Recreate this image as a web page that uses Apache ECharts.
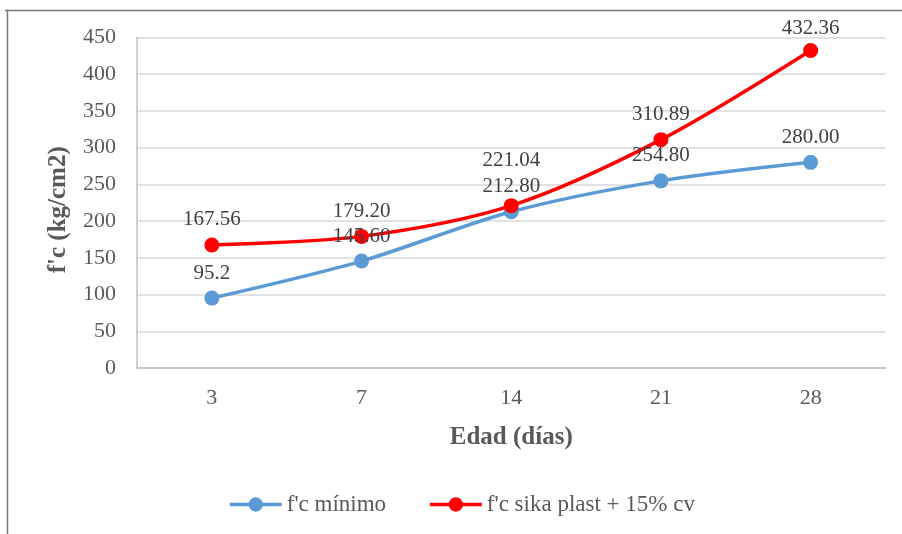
<!DOCTYPE html>
<html>
<head>
<meta charset="utf-8">
<script src="https://cdn.jsdelivr.net/npm/echarts@6/dist/echarts.min.js"></script>
<style>
  html, body { margin: 0; padding: 0; background: #ffffff; }
  #chart { width: 902px; height: 534px; }
</style>
</head>
<body>
<div id="chart"></div>
<script>
// Compressive strength by age
const ages = ['3', '7', '14', '21', '28'];
const minimoText = ['95.2', '145.60', '212.80', '254.80', '280.00'];
const sikaText = ['167.56', '179.20', '221.04', '310.89', '432.36'];
const yTicks = { min: 0, max: 450, interval: 50 };
const seriesNames = ["f'c mínimo", "f'c sika plast + 15% cv"];

const FONT = '"Liberation Serif", "Times New Roman", serif';
const labelStyle = { fontFamily: FONT, fontSize: 21, color: '#404040' };

function points(texts, distances) {
  return texts.map((t, i) => {
    const item = { value: Number(t) };
    if (distances && distances[i] != null) item.label = { distance: distances[i] };
    return item;
  });
}

const chart = echarts.init(document.getElementById('chart'), null, { renderer: 'canvas' });

chart.setOption({
  backgroundColor: '#ffffff',
  animation: false,
  graphic: [
    { type: 'line', shape: { x1: 5, y1: 10.5, x2: 902, y2: 10.5 }, style: { stroke: '#767676', lineWidth: 1.5 } },
    { type: 'line', shape: { x1: 7.5, y1: 10, x2: 7.5, y2: 534 }, style: { stroke: '#767676', lineWidth: 1.5 } }
  ],
  grid: { left: 137, right: 16.5, top: 37.5, bottom: 166, containLabel: false },
  legend: {
    left: 223,
    top: 488,
    itemWidth: 52,
    itemHeight: 18,
    itemGap: 42,
    lineStyle: { width: 3.5 },
    textStyle: { fontFamily: FONT, fontSize: 23, color: '#595959' },
    data: seriesNames
  },
  xAxis: {
    type: 'category',
    data: ages,
    boundaryGap: true,
    name: 'Edad (días)',
    nameLocation: 'middle',
    nameGap: 57,
    nameTextStyle: { fontFamily: FONT, fontSize: 25, fontWeight: 'bold', color: '#595959' },
    axisLine: { lineStyle: { color: '#bfbfbf', width: 1.5 } },
    axisTick: { show: false },
    axisLabel: { fontFamily: FONT, fontSize: 22, color: '#595959', margin: 19 }
  },
  yAxis: {
    type: 'value',
    min: yTicks.min,
    max: yTicks.max,
    interval: yTicks.interval,
    name: "f'c (kg/cm2)",
    nameLocation: 'middle',
    nameGap: 66,
    nameTextStyle: { fontFamily: FONT, fontSize: 25, fontWeight: 'bold', color: '#595959', padding: [0, 14, 0, 0] },
    axisLine: { show: true, lineStyle: { color: '#bfbfbf', width: 1.5 } },
    axisTick: { show: false },
    axisLabel: { fontFamily: FONT, fontSize: 22, color: '#595959', margin: 21 },
    splitLine: { lineStyle: { color: '#d9d9d9', width: 1.5 } }
  },
  series: [
    {
      name: seriesNames[0],
      type: 'line',
      data: points(minimoText),
      smooth: 0.3,
      symbol: 'circle',
      symbolSize: 15,
      lineStyle: { color: '#5b9bd5', width: 3.5 },
      itemStyle: { color: '#5b9bd5' },
      label: {
        show: true, position: 'top', distance: 7, ...labelStyle,
        formatter: p => minimoText[p.dataIndex]
      }
    },
    {
      name: seriesNames[1],
      type: 'line',
      data: points(sikaText, [null, null, 27, null, 3.5]),
      smooth: 0.3,
      symbol: 'circle',
      symbolSize: 15,
      lineStyle: { color: '#ff0000', width: 3.5 },
      itemStyle: { color: '#ff0000' },
      label: {
        show: true, position: 'top', distance: 7, ...labelStyle,
        formatter: p => sikaText[p.dataIndex]
      }
    }
  ]
});
</script>
</body>
</html>
